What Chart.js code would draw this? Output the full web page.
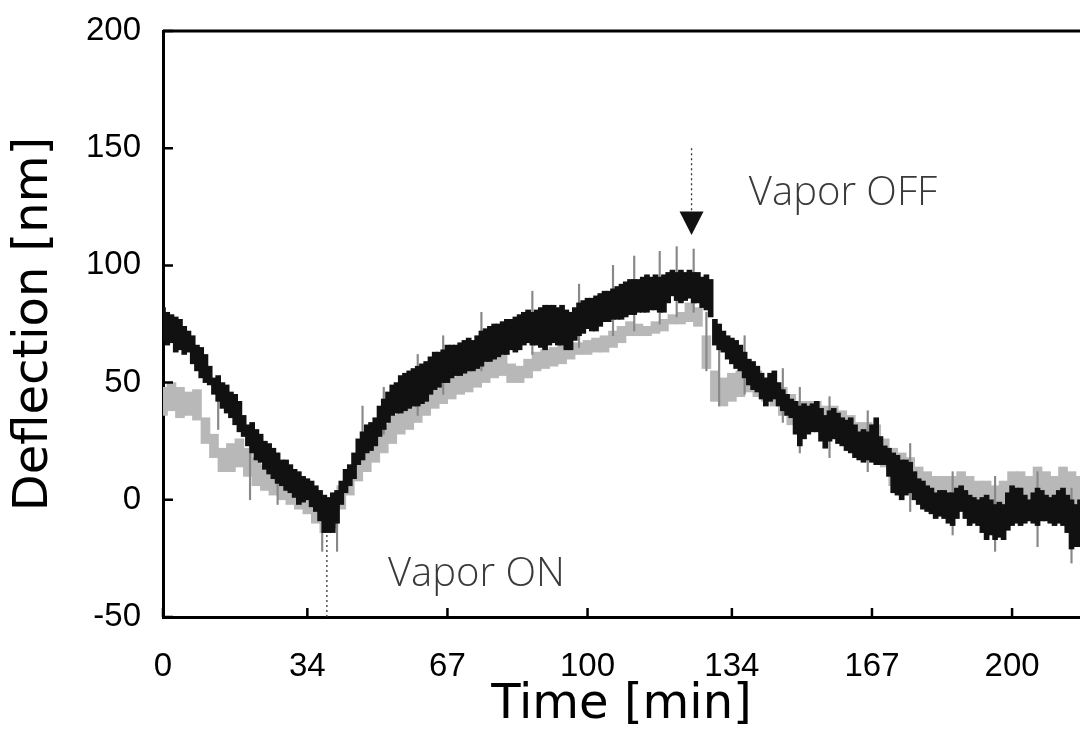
<!DOCTYPE html>
<html>
<head>
<meta charset="utf-8">
<script src="https://cdn.jsdelivr.net/npm/chart.js@4.4.1/dist/chart.umd.min.js"></script>
<style>
  body { margin: 0; background: #fff; }
  #wrap { width: 1080px; height: 738px; }
</style>
</head>
<body>
<div id="wrap"><canvas id="myChart" width="1080" height="738"></canvas></div>
<script>
// time in minutes, one reading per minute (dark trace)
const darkHigh = [82,80,79,78,77,74,72,70,66,65,62,57,52,53,50,49,46,45,42,36,
  32,33,30,28,25,24,22,20,17,17,15,13,12,10,9,8,6,4,2,1,
  3,4,8,13,15,20,26,29,32,33,35,40,43,46,49,50,53,54,55,56,
  57,58,59,61,63,63,64,66,66,66,67,68,69,68,70,72,73,74,75,75,
  76,77,77,78,79,80,81,80,81,82,83,83,83,82,83,81,80,82,84,85,
  86,86,87,88,89,89,90,91,92,93,94,94,94,95,96,95,96,95,96,97,
  98,97,98,97,98,97,97,95,96,94,77,75,72,70,69,68,66,63,60,59,
  57,54,52,54,55,50,47,45,43,42,40,41,40,41,42,39,36,38,39,37,
  35,34,35,32,29,30,29,32,35,27,23,22,20,19,17,17,16,12,9,8,
  6,5,3,4,4,3,3,5,6,4,2,1,0,1,2,0,-2,-1,-2,3,
  6,5,5,2,0,3,5,4,2,1,2,4,5,2,0,-2,0];
const darkLow = [68,66,67,63,64,62,63,58,55,52,50,49,45,42,39,37,35,32,29,27,
  23,20,17,16,13,11,9,7,6,4,3,1,-2,-1,0,-3,-5,-9,-14,-14,
  -14,-10,-2,3,6,9,15,17,20,21,23,27,30,33,36,37,37,38,39,40,
  40,41,42,45,47,48,50,50,52,53,53,54,55,55,56,57,59,59,60,61,
  62,62,64,63,64,66,67,66,66,65,64,66,67,66,66,64,64,68,70,71,
  73,72,72,74,76,76,77,77,77,78,79,79,80,80,80,81,81,80,80,84,
  87,85,84,85,86,84,84,82,81,78,66,64,63,60,58,56,55,52,49,47,
  46,43,40,42,43,40,38,36,35,28,23,26,28,29,29,25,22,25,26,24,
  23,21,20,18,17,16,17,16,15,15,15,10,3,2,0,2,3,0,-2,-4,
  -5,-6,-8,-7,-8,-10,-11,-8,-5,-8,-11,-10,-11,-14,-17,-15,-17,-16,-17,-13,
  -11,-10,-11,-10,-9,-10,-11,-9,-9,-10,-11,-10,-11,-14,-21,-20,-20];

// lighter trace, one reading every 2 minutes
const grayStep = 2;
const grayHigh = [48,50,48,46,47,35,28,22,24,26,22,18,15,12,10,8,6,4,2,0,
  0,6,12,18,24,28,32,36,40,42,44,46,47,50,52,55,56,58,60,62,
  63,58,57,60,63,64,65,66,67,67,68,69,70,72,74,76,75,74,76,77,
  79,80,84,82,70,55,52,54,55,56,55,52,50,48,45,42,42,42,40,40,
  38,36,33,33,32,26,22,20,18,14,12,10,10,10,12,10,8,8,6,8,
  12,12,10,14,12,10,14,12,10];
const grayLow = [36,38,35,36,34,24,18,12,12,14,10,6,4,2,0,-2,-4,-6,-10,-14,
  -12,-4,2,8,12,16,20,24,28,30,33,36,39,41,43,45,46,48,50,52,
  53,50,50,52,55,56,57,58,60,62,62,63,63,65,67,70,70,70,71,72,
  75,75,76,74,56,42,40,42,44,46,44,42,40,36,32,28,30,30,26,26,
  24,22,20,18,17,14,6,4,4,0,-2,-4,-5,-6,-2,-6,-8,-10,-12,-10,
  -6,-6,-6,-4,-4,-6,-6,-12,-14];

// isolated noise spikes: [time, low, high]
const spikes = [[13,30,52],[20.5,0,30],[27,-2,20],[37.5,-22,0],[41,-22,2],[47,20,40],
  [52,28,48],[60,36,62],[66,45,70],[75,55,80],[87,62,89],[98,65,92],[106,70,100],
  [111,72,104],[117,75,106],[121,78,108],[125,80,107],[128,55,80],[131,40,70],
  [137,45,70],[146,33,56],[150,20,48],[157,18,44],[166,12,38],[176,-5,24],
  [186,-15,12],[196,-22,10],[206,-20,12],[214,-27,5]];

const xTickValues = [0, 34, 67, 100, 134, 167, 200];
const yTickValues = [-50, 0, 50, 100, 150, 200];

// markers
const vaporOnTime = 38.6;
const vaporOffTime = 124.5;

const decorations = {
  id: 'decorations',
  afterDatasetsDraw(chart) {
    const { ctx, chartArea: a, scales: { x, y } } = chart;
    ctx.save();
    ctx.strokeStyle = '#000';
    ctx.lineWidth = 3;
    ctx.beginPath();
    ctx.moveTo(a.left, a.top);
    ctx.lineTo(a.right, a.top);
    ctx.stroke();

    // ticks pointing inside
    ctx.lineWidth = 2.5;
    ctx.beginPath();
    xTickValues.forEach(function (v) {
      const px = x.getPixelForValue(v);
      ctx.moveTo(px, a.bottom);
      ctx.lineTo(px, a.bottom - 9);
    });
    yTickValues.forEach(function (v) {
      const py = y.getPixelForValue(v);
      ctx.moveTo(a.left, py);
      ctx.lineTo(a.left + 10, py);
    });
    ctx.stroke();

    // vapor ON line
    ctx.setLineDash([2, 3]);
    ctx.lineWidth = 1.3;
    ctx.strokeStyle = '#333';
    ctx.beginPath();
    ctx.moveTo(x.getPixelForValue(vaporOnTime), y.getPixelForValue(-50));
    ctx.lineTo(x.getPixelForValue(vaporOnTime), y.getPixelForValue(-13.6));
    // vapor OFF arrow line
    ctx.moveTo(x.getPixelForValue(vaporOffTime), y.getPixelForValue(150));
    ctx.lineTo(x.getPixelForValue(vaporOffTime), y.getPixelForValue(123));
    ctx.stroke();
    ctx.setLineDash([]);

    // arrow head
    const ax = x.getPixelForValue(vaporOffTime);
    ctx.fillStyle = '#111';
    ctx.beginPath();
    ctx.moveTo(ax - 12, y.getPixelForValue(123));
    ctx.lineTo(ax + 12, y.getPixelForValue(123));
    ctx.lineTo(ax, y.getPixelForValue(113));
    ctx.closePath();
    ctx.fill();

    // labels
    ctx.fillStyle = '#3a3a3a';
    ctx.font = '300 40px "Open Sans"';
    ctx.textBaseline = 'middle';
    ctx.textAlign = 'left';
    ctx.fillText('Vapor ON', x.getPixelForValue(53), y.getPixelForValue(-32));
    ctx.fillText('Vapor OFF', x.getPixelForValue(138), y.getPixelForValue(130.5));
    ctx.restore();
  }
};

window.onload = function () {
  const ctx = document.getElementById('myChart');
  const myChart = new Chart(ctx, {
    type: 'bar',
    data: {
      datasets: [{
        label: 'dark',
        data: darkHigh.map(function (h, i) { return { x: i, y: [darkLow[i], h] }; }),
        backgroundColor: '#111',
        barThickness: 5,
        order: 0
      }, {
        label: 'spikes',
        data: spikes.map(function (s) { return { x: s[0], y: [s[1], s[2]] }; }),
        backgroundColor: '#888',
        barThickness: 1.5,
        order: 1
      }, {
        label: 'light',
        data: grayHigh.map(function (h, i) { return { x: i * grayStep, y: [grayLow[i], h] }; }),
        backgroundColor: '#b8b8b8',
        barThickness: 9,
        order: 2
      }]
    },
    options: {
      responsive: false,
      animation: false,
      grouped: false,
      layout: { padding: { top: 31, right: 0, left: 0, bottom: 0 } },
      scales: {
        x: {
          type: 'linear',
          offset: false,
          min: 0,
          max: 216,
          afterBuildTicks: function (scale) {
            scale.ticks = xTickValues.map(function (v) { return { value: v }; });
          },
          afterFit: function (scale) {
            scale.height = 121;
            scale.paddingLeft = 0;
            scale.paddingRight = 0;
          },
          grid: { display: false, drawTicks: false, offset: false },
          border: { display: true, color: '#000', width: 3 },
          ticks: {
            color: '#000',
            padding: 30,
            maxRotation: 0,
            autoSkip: false,
            font: { family: '"Liberation Sans"', size: 33 }
          },
          title: {
            display: true,
            text: 'Time [min]',
            color: '#000',
            padding: { top: 0, bottom: 4 },
            font: { family: '"DejaVu Sans"', size: 48 }
          }
        },
        y: {
          min: -50,
          max: 200,
          afterFit: function (scale) {
            scale.width = 163;
            scale.paddingTop = 0;
            scale.paddingBottom = 0;
          },
          grid: { display: false, drawTicks: false },
          border: { display: true, color: '#000', width: 3 },
          ticks: {
            stepSize: 50,
            color: '#000',
            padding: 22,
            font: { family: '"Liberation Sans"', size: 33 }
          },
          title: {
            display: true,
            text: 'Deflection [nm]',
            color: '#000',
            padding: { top: 6, bottom: 0 },
            font: { family: '"DejaVu Sans"', size: 48 }
          }
        }
      },
      plugins: {
        legend: { display: false },
        tooltip: { enabled: false }
      }
    },
    plugins: [decorations]
  });
};
</script>
</body>
</html>
